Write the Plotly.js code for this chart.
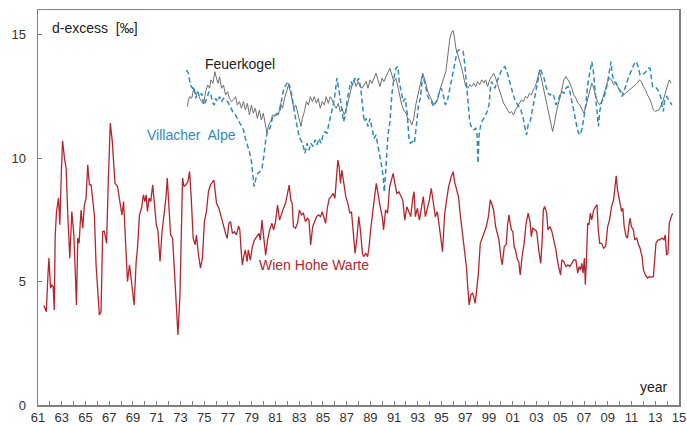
<!DOCTYPE html>
<html>
<head>
<meta charset="utf-8">
<script src="https://cdn.plot.ly/plotly-3.0.1.min.js"></script>
<style>
html,body{margin:0;padding:0;background:#fff;}
#chart{width:687px;height:425px;}
</style>
</head>
<body>
<div id="chart"></div>
<script>
// Wien Hohe Warte
const wienYears = [1961.50,1961.70,1961.84,1961.92,1962.06,1962.17,1962.28,1962.37,1962.45,1962.56,1962.73,1962.84,1962.96,1963.07,1963.23,1963.37,1963.51,1963.68,1963.85,1964.02,1964.13,1964.24,1964.35,1964.46,1964.63,1964.77,1964.91,1965.05,1965.19,1965.33,1965.47,1965.61,1965.75,1965.89,1966.03,1966.17,1966.31,1966.45,1966.59,1966.78,1966.92,1967.09,1967.26,1967.48,1967.70,1967.93,1968.07,1968.21,1968.37,1968.54,1968.71,1968.82,1968.96,1969.10,1969.27,1969.38,1969.55,1969.72,1969.88,1970.00,1970.11,1970.22,1970.36,1970.50,1970.66,1970.83,1970.97,1971.11,1971.28,1971.45,1971.61,1971.78,1971.89,1972.01,1972.17,1972.34,1972.51,1972.68,1972.79,1972.96,1973.07,1973.18,1973.29,1973.46,1973.63,1973.77,1973.91,1974.07,1974.24,1974.35,1974.52,1974.69,1974.85,1975.02,1975.19,1975.36,1975.53,1975.69,1975.82,1976.04,1976.24,1976.43,1976.60,1976.80,1976.94,1977.08,1977.22,1977.38,1977.55,1977.72,1977.89,1978.00,1978.11,1978.22,1978.33,1978.47,1978.61,1978.72,1978.89,1979.06,1979.23,1979.45,1979.62,1979.73,1979.87,1980.01,1980.18,1980.34,1980.51,1980.71,1980.85,1981.01,1981.18,1981.35,1981.52,1981.68,1981.85,1982.02,1982.16,1982.30,1982.41,1982.52,1982.69,1982.86,1983.02,1983.19,1983.36,1983.53,1983.69,1983.83,1983.97,1984.14,1984.31,1984.47,1984.64,1984.81,1984.95,1985.09,1985.23,1985.37,1985.54,1985.70,1985.87,1986.01,1986.15,1986.26,1986.37,1986.48,1986.60,1986.76,1986.93,1987.10,1987.27,1987.41,1987.55,1987.71,1987.88,1988.02,1988.16,1988.33,1988.44,1988.61,1988.77,1988.89,1989.05,1989.22,1989.39,1989.50,1989.67,1989.83,1990.00,1990.11,1990.28,1990.45,1990.62,1990.78,1990.92,1991.06,1991.23,1991.40,1991.57,1991.73,1991.90,1992.07,1992.24,1992.40,1992.57,1992.68,1992.79,1992.96,1993.13,1993.30,1993.46,1993.63,1993.80,1993.97,1994.13,1994.30,1994.47,1994.64,1994.75,1994.92,1995.08,1995.25,1995.42,1995.59,1995.81,1995.98,1996.09,1996.26,1996.42,1996.59,1996.76,1996.93,1997.09,1997.20,1997.32,1997.46,1997.60,1997.71,1997.82,1997.93,1998.10,1998.26,1998.43,1998.60,1998.77,1998.94,1999.10,1999.21,1999.38,1999.55,1999.72,1999.83,2000.00,2000.11,2000.28,2000.44,2000.56,2000.67,2000.78,2000.89,2001.00,2001.11,2001.22,2001.39,2001.50,2001.62,2001.78,2001.95,2002.12,2002.29,2002.45,2002.56,2002.68,2002.84,2003.01,2003.18,2003.35,2003.46,2003.57,2003.68,2003.85,2003.96,2004.13,2004.29,2004.46,2004.63,2004.80,2005.02,2005.13,2005.30,2005.47,2005.64,2005.80,2005.97,2006.14,2006.31,2006.47,2006.58,2006.70,2006.81,2006.92,2007.03,2007.11,2007.20,2007.31,2007.42,2007.53,2007.65,2007.81,2007.98,2008.09,2008.20,2008.32,2008.48,2008.65,2008.82,2008.99,2009.15,2009.32,2009.49,2009.60,2009.71,2009.82,2009.99,2010.16,2010.27,2010.38,2010.55,2010.66,2010.77,2010.88,2010.99,2011.16,2011.27,2011.44,2011.55,2011.72,2011.89,2012.00,2012.17,2012.34,2012.50,2012.67,2012.84,2012.95,2013.06,2013.23,2013.40,2013.56,2013.73,2013.84,2013.95,2014.07,2014.18,2014.35,2014.46];
const wienValues = [4.03,3.78,5.27,5.95,4.73,4.86,4.80,3.85,6.89,7.84,8.38,7.30,9.32,10.70,10.00,9.59,7.70,5.95,7.84,6.89,5.54,4.05,6.76,6.55,7.90,7.16,8.10,8.38,9.73,8.92,8.92,8.30,7.70,5.68,4.73,3.65,3.78,7.03,7.03,6.55,9.05,11.42,10.68,8.99,8.85,8.24,7.70,8.24,6.35,5.00,5.68,5.27,4.73,4.05,5.81,6.35,7.70,7.97,8.51,8.24,8.51,7.84,8.38,8.24,8.92,8.10,7.30,7.03,5.81,7.03,7.70,8.38,9.19,8.24,6.89,6.76,5.27,3.92,2.84,4.46,6.35,9.19,8.85,8.92,9.05,9.46,8.38,6.76,6.49,6.89,6.08,5.54,5.95,7.43,7.84,8.65,8.92,9.05,9.11,8.17,7.97,7.63,7.29,6.95,6.75,7.36,7.43,6.95,7.02,6.89,7.25,7.09,6.28,5.67,6.01,6.28,5.81,6.28,5.87,6.41,6.68,6.82,6.95,6.68,7.49,6.82,6.07,6.68,7.09,7.36,7.09,7.43,8.10,7.49,7.77,7.97,8.17,8.57,8.91,8.30,8.17,7.22,7.16,7.36,7.90,7.70,7.77,7.43,7.56,7.49,6.48,7.22,7.43,7.63,7.70,7.63,7.83,7.63,7.36,7.97,8.37,8.44,8.57,8.37,9.32,9.92,9.65,8.98,9.52,8.98,8.44,8.17,7.77,7.83,6.95,6.14,6.82,7.63,7.09,6.14,6.01,6.14,6.01,6.41,7.22,8.03,8.57,8.98,8.44,8.03,7.63,7.09,7.90,7.77,8.84,9.11,9.38,8.98,8.57,8.64,8.44,8.30,7.49,8.03,7.83,7.63,8.37,8.64,7.63,7.97,7.49,7.97,8.44,7.63,7.97,8.30,8.78,8.17,7.63,7.83,7.49,6.82,6.21,7.70,8.30,8.84,9.25,9.45,9.05,8.78,8.44,7.63,6.96,6.42,5.61,4.80,4.05,4.46,4.53,4.39,4.12,4.53,5.34,6.55,6.76,7.03,7.23,7.63,8.31,8.17,7.90,7.23,6.82,6.69,5.95,5.68,6.42,6.49,7.30,7.70,7.36,7.09,7.03,6.42,6.28,5.88,5.81,5.27,6.01,6.55,7.36,7.77,7.43,6.82,7.16,7.09,7.03,6.28,5.74,6.55,7.90,8.04,7.77,7.09,7.23,7.03,6.69,6.28,5.74,5.27,5.88,5.81,5.61,5.68,5.61,5.74,5.88,5.88,5.34,5.61,5.47,5.74,5.34,5.95,4.87,5.88,7.36,7.30,7.77,7.50,7.90,8.04,8.11,7.09,6.55,6.55,6.35,6.42,7.23,7.50,8.04,8.31,8.78,9.28,8.71,8.24,7.84,7.97,7.23,6.82,6.76,7.23,7.57,7.23,7.09,6.69,6.76,6.55,6.35,6.01,5.47,5.27,5.14,5.20,5.18,5.20,5.88,6.55,6.69,6.69,6.76,6.69,6.89,6.08,6.15,7.36,7.63,7.77];

// Feuerkogel
const feuerYears = [1973.59,1973.67,1973.78,1973.95,1974.12,1974.29,1974.45,1974.62,1974.79,1974.96,1975.12,1975.29,1975.46,1975.57,1975.74,1975.90,1976.07,1976.18,1976.30,1976.46,1976.63,1976.80,1976.97,1977.13,1977.30,1977.47,1977.64,1977.80,1977.97,1978.14,1978.31,1978.47,1978.64,1978.81,1978.98,1979.14,1979.31,1979.48,1979.65,1979.81,1979.98,1980.15,1980.29,1980.43,1980.59,1980.76,1980.93,1981.10,1981.26,1981.43,1981.60,1981.77,1981.93,1982.10,1982.27,1982.38,1982.55,1982.72,1982.88,1983.05,1983.16,1983.27,1983.44,1983.61,1983.78,1983.94,1984.11,1984.28,1984.45,1984.61,1984.78,1984.95,1985.12,1985.28,1985.45,1985.62,1985.79,1985.96,1986.12,1986.29,1986.46,1986.62,1986.79,1986.96,1987.13,1987.30,1987.46,1987.63,1987.80,1987.97,1988.13,1988.30,1988.47,1988.64,1988.80,1988.97,1989.14,1989.31,1989.47,1989.64,1989.81,1989.98,1990.14,1990.31,1990.48,1990.65,1990.81,1990.98,1991.15,1991.32,1991.48,1991.65,1991.82,1991.99,1992.15,1992.32,1992.49,1992.66,1992.82,1992.99,1993.16,1993.41,1993.63,1993.83,1994.02,1994.19,1994.36,1994.53,1994.69,1994.86,1995.03,1995.20,1995.36,1995.53,1995.70,1995.87,1995.98,1996.09,1996.20,1996.37,1996.54,1996.70,1996.87,1997.04,1997.21,1997.37,1997.54,1997.71,1997.88,1998.04,1998.21,1998.38,1998.55,1998.71,1998.88,1999.05,1999.22,1999.38,1999.55,1999.72,1999.89,2000.05,2000.22,2000.39,2000.56,2000.72,2000.89,2001.06,2001.23,2001.39,2001.56,2001.73,2001.90,2002.06,2002.23,2002.40,2002.57,2002.73,2002.90,2003.07,2003.24,2003.40,2003.57,2003.74,2003.91,2004.07,2004.24,2004.35,2004.47,2004.63,2004.80,2004.97,2005.14,2005.30,2005.47,2005.64,2005.81,2005.97,2006.14,2006.31,2006.48,2006.64,2006.81,2006.98,2007.15,2007.31,2007.48,2007.65,2007.82,2007.98,2008.15,2008.32,2008.49,2008.65,2008.82,2008.99,2009.16,2009.32,2009.49,2009.66,2009.83,2009.99,2010.16,2010.33,2010.50,2010.66,2010.83,2011.00,2011.17,2011.33,2011.50,2011.67,2011.83,2012.00,2012.17,2012.34,2012.51,2012.67,2012.84,2013.01,2013.18,2013.34,2013.51,2013.68,2013.84,2014.01,2014.18,2014.35];
const feuerValues = [12.09,12.36,12.49,12.42,12.83,12.56,12.69,12.42,12.29,12.22,12.69,12.96,12.83,13.17,13.03,13.50,13.17,13.03,13.30,12.83,12.96,12.56,12.69,12.42,12.29,12.36,12.49,12.15,12.29,12.02,12.29,11.95,12.22,11.75,12.15,11.82,12.02,11.61,11.95,11.55,11.82,11.34,11.01,11.34,11.48,11.75,11.68,11.82,11.75,12.22,12.02,12.42,12.69,12.96,12.69,12.36,12.02,12.15,11.82,11.48,11.28,11.61,11.88,12.29,12.15,12.49,12.29,12.49,12.22,12.42,12.02,12.29,12.15,12.49,12.22,12.49,12.36,12.15,12.02,12.22,11.88,12.02,11.75,11.95,12.29,12.69,12.96,13.17,12.90,13.10,12.90,12.83,12.96,13.10,12.83,13.17,13.03,13.24,13.44,13.17,12.90,13.24,13.10,13.30,13.44,13.64,13.37,13.10,13.24,12.83,12.42,12.15,11.95,11.82,11.61,11.55,11.34,11.61,12.15,12.56,12.83,13.44,13.10,12.70,12.50,12.29,12.16,12.23,12.43,12.77,13.04,13.24,13.51,14.18,14.86,15.13,15.16,14.86,14.46,14.18,13.91,13.64,13.24,12.90,12.83,12.97,12.90,13.04,12.90,13.10,12.97,13.17,13.04,13.17,12.90,13.17,13.31,13.44,13.24,12.97,12.77,12.50,12.23,12.09,11.96,11.82,11.89,11.75,11.96,12.09,12.23,12.36,12.29,12.50,12.43,12.63,12.56,12.77,12.90,13.24,13.51,13.24,12.83,12.43,12.02,11.69,11.35,11.08,11.35,11.82,12.16,12.43,12.77,13.17,13.31,13.17,13.04,12.83,12.56,12.43,12.23,12.16,12.02,11.82,12.09,12.43,12.77,13.04,12.83,12.50,12.29,12.16,12.29,12.56,12.83,13.10,13.24,13.17,12.97,13.04,12.90,12.77,12.70,12.56,12.63,12.70,12.77,12.83,12.90,12.97,13.04,13.17,13.10,12.90,12.77,12.56,12.43,12.23,11.96,11.89,11.92,11.96,12.16,12.36,12.63,12.90,13.17,13.04];

// Villacher Alpe
const villYears = [1973.50,1973.67,1973.84,1974.01,1974.12,1974.29,1974.45,1974.62,1974.79,1974.96,1975.12,1975.29,1975.40,1975.57,1975.74,1975.85,1975.96,1976.13,1976.30,1976.46,1976.63,1976.80,1976.97,1977.13,1977.30,1977.47,1977.64,1977.80,1977.97,1978.14,1978.31,1978.47,1978.64,1978.81,1978.98,1979.10,1979.20,1979.37,1979.53,1979.70,1979.87,1980.04,1980.20,1980.37,1980.54,1980.71,1980.87,1981.04,1981.21,1981.38,1981.54,1981.71,1981.88,1982.05,1982.21,1982.38,1982.55,1982.72,1982.88,1983.05,1983.22,1983.39,1983.50,1983.67,1983.83,1984.00,1984.17,1984.34,1984.50,1984.67,1984.84,1985.01,1985.17,1985.34,1985.51,1985.67,1985.84,1986.01,1986.18,1986.29,1986.46,1986.57,1986.74,1986.90,1987.02,1987.18,1987.35,1987.52,1987.69,1987.85,1988.02,1988.19,1988.36,1988.47,1988.64,1988.80,1988.97,1989.14,1989.31,1989.47,1989.64,1989.81,1989.98,1990.09,1990.17,1990.27,1990.37,1990.48,1990.65,1990.81,1990.98,1991.15,1991.32,1991.43,1991.60,1991.76,1991.93,1992.10,1992.26,1992.38,1992.54,1992.71,1992.88,1993.05,1993.21,1993.41,1993.63,1993.80,1993.97,1994.14,1994.30,1994.47,1994.64,1994.81,1994.97,1995.14,1995.31,1995.48,1995.64,1995.81,1995.98,1996.15,1996.31,1996.48,1996.65,1996.82,1996.93,1997.04,1997.15,1997.26,1997.37,1997.54,1997.71,1997.88,1997.99,1998.07,1998.16,1998.32,1998.49,1998.66,1998.83,1999.00,1999.11,1999.22,1999.33,1999.50,1999.66,1999.83,2000.00,2000.17,2000.33,2000.50,2000.67,2000.84,2001.00,2001.17,2001.34,2001.51,2001.67,2001.84,2002.01,2002.15,2002.29,2002.46,2002.62,2002.79,2002.96,2003.13,2003.29,2003.46,2003.63,2003.80,2003.96,2004.13,2004.30,2004.46,2004.63,2004.80,2004.97,2005.13,2005.30,2005.47,2005.64,2005.81,2005.97,2006.14,2006.31,2006.48,2006.64,2006.81,2006.98,2007.15,2007.31,2007.48,2007.65,2007.76,2007.87,2007.98,2008.09,2008.21,2008.32,2008.49,2008.65,2008.82,2008.99,2009.16,2009.27,2009.38,2009.55,2009.71,2009.88,2010.05,2010.22,2010.38,2010.55,2010.72,2010.89,2011.05,2011.22,2011.39,2011.56,2011.72,2011.89,2012.06,2012.23,2012.39,2012.56,2012.67,2012.78,2012.95,2013.12,2013.29,2013.45,2013.57,2013.68,2013.79,2013.96,2014.13,2014.29,2014.40];
const villValues = [13.57,13.44,12.96,12.83,12.90,12.42,12.69,12.49,12.63,12.15,12.29,12.49,12.69,12.56,12.22,12.15,12.42,12.29,12.49,12.29,12.42,12.36,12.29,12.15,11.95,11.82,11.75,11.61,11.48,11.34,11.14,10.80,10.53,10.26,9.86,9.30,8.85,9.20,9.40,9.45,9.59,10.13,10.80,11.14,11.21,11.55,11.75,11.75,11.82,11.88,12.42,12.83,12.96,13.10,12.90,12.56,12.02,11.48,11.14,10.80,10.67,10.40,10.20,10.60,10.33,10.60,10.47,10.74,10.53,10.80,10.60,10.94,11.07,11.01,11.48,11.75,12.09,12.56,13.24,12.96,12.42,12.02,11.48,11.75,12.29,12.69,13.10,12.96,13.24,13.10,13.24,12.83,12.02,11.48,11.61,11.28,11.61,11.21,10.80,10.94,10.53,10.13,9.59,9.18,8.63,9.30,10.13,10.94,11.48,12.56,13.24,13.64,13.71,13.10,12.69,12.29,12.42,11.82,10.74,10.60,10.67,10.60,11.34,12.15,12.42,13.37,12.97,12.56,12.36,12.29,12.09,12.23,12.36,12.70,12.83,12.56,12.16,12.29,12.70,13.17,13.64,14.05,14.32,14.39,14.35,14.32,13.91,13.37,12.70,12.02,11.48,11.21,11.15,11.21,10.94,9.79,10.94,11.42,11.55,11.69,11.89,12.16,12.83,13.10,12.97,12.83,13.10,13.31,13.51,13.64,13.71,13.51,13.17,12.90,12.63,12.36,12.23,12.09,11.96,11.69,11.35,10.94,11.35,11.48,11.89,12.29,12.70,13.17,13.64,13.44,13.24,12.90,12.63,12.56,12.63,12.50,12.16,12.29,12.56,12.70,12.63,12.83,12.90,12.70,12.29,11.82,11.35,11.08,10.94,11.15,11.62,12.16,12.97,13.51,13.91,13.64,13.10,12.50,11.89,11.28,11.89,12.29,12.43,12.70,13.10,13.64,13.91,13.37,13.10,13.04,12.90,12.70,12.50,12.70,12.97,13.24,13.44,13.64,13.81,13.91,13.71,13.37,13.37,13.44,13.51,13.64,13.64,13.24,12.90,12.90,12.83,12.70,12.50,12.16,11.89,12.36,12.50,12.36,12.23,12.16];

// axis ticks
const xTickYears = [];
const xTickText = [];
for (let y = 1961; y <= 2015; y++) {
  xTickYears.push(y);
  xTickText.push(y % 2 === 1 ? String(y % 100).padStart(2, '0') : '');
}
const yTickVals = [0, 5, 10, 15];
const yTickText = ['0', '5', '10', '15'];

const FONT = 'Liberation Sans, Arial, sans-serif';
const RED = '#b3262f';
const GRAY = '#6f6f6f';
const BLUE = '#2f8bbd';

const traces = [
  {x: wienYears, y: wienValues, type: 'scatter', mode: 'lines',
   line: {color: RED, width: 1.3}, hoverinfo: 'skip'},
  {x: feuerYears, y: feuerValues, type: 'scatter', mode: 'lines',
   line: {color: GRAY, width: 1}, hoverinfo: 'skip'},
  {x: villYears, y: villValues, type: 'scatter', mode: 'lines',
   line: {color: BLUE, width: 1.5, dash: '5px,3px'}, hoverinfo: 'skip'}
];

const layout = {
  width: 687, height: 425,
  margin: {l: 38, r: 8, t: 10, b: 20, pad: 0},
  paper_bgcolor: '#ffffff', plot_bgcolor: '#ffffff',
  showlegend: false,
  font: {family: FONT, size: 13, color: '#333'},
  xaxis: {
    range: [1961, 2015], tickmode: 'array', tickvals: xTickYears, ticktext: xTickText,
    ticks: 'inside', ticklen: 4, tickwidth: 1, tickcolor: '#808080',
    showline: true, mirror: true, linecolor: '#808080', linewidth: 1.5,
    showgrid: false, zeroline: false, ticklabeloverflow: 'allow',
    tickfont: {family: FONT, size: 13, color: '#333'}, tickangle: 0
  },
  yaxis: {
    range: [0, 16], tickmode: 'array', tickvals: yTickVals, ticktext: yTickText,
    ticks: 'inside', ticklen: 4, tickwidth: 1, tickcolor: '#808080',
    showline: true, mirror: true, linecolor: '#808080', linewidth: 1.5,
    showgrid: false, zeroline: false, ticklabelstandoff: 8,
    tickfont: {family: FONT, size: 13, color: '#333'}
  },
  annotations: [
    {text: 'd-excess  [‰]', x: 1962.0, y: 15.28, xref: 'x', yref: 'y', xanchor: 'left', yanchor: 'middle',
     showarrow: false, font: {family: FONT, size: 14, color: '#222'}},
    {text: 'Feuerkogel', x: 1978.04, y: 13.82, xref: 'x', yref: 'y', xanchor: 'center', yanchor: 'middle',
     showarrow: false, font: {family: FONT, size: 14, color: '#222'}},
    {text: 'Villacher  Alpe', x: 1973.94, y: 10.94, xref: 'x', yref: 'y', xanchor: 'center', yanchor: 'middle',
     showarrow: false, font: {family: FONT, size: 14, color: BLUE}},
    {text: 'Wien Hohe Warte', x: 1984.24, y: 5.67, xref: 'x', yref: 'y', xanchor: 'center', yanchor: 'middle',
     showarrow: false, font: {family: FONT, size: 14, color: RED}},
    {text: 'year', x: 2012.88, y: 0.73, xref: 'x', yref: 'y', xanchor: 'center', yanchor: 'middle',
     showarrow: false, font: {family: FONT, size: 14, color: '#222'}}
  ]
};

Plotly.newPlot('chart', traces, layout, {staticPlot: true, displayModeBar: false});
</script>
</body>
</html>
